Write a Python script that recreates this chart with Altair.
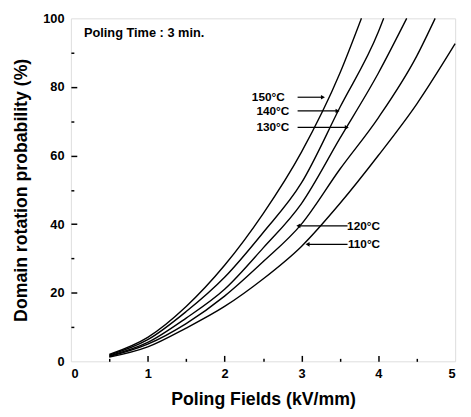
import altair as alt
import pandas as pd

# ---- data ----
x150 = [0.5, 1.0, 1.5, 2.0, 2.5, 3.0, 3.5, 3.78]
y150 = [2.0, 7.0, 16.0, 28.0, 43.0, 61.0, 84.0, 100.0]
x140 = [0.5, 1.0, 1.5, 2.0, 2.5, 3.0, 3.5, 4.0, 4.07]
y140 = [1.8, 6.3, 14.5, 24.5, 37.5, 52.0, 74.0, 96.0, 100.0]
x130 = [0.5, 1.0, 1.5, 2.0, 2.5, 3.0, 3.5, 4.0, 4.37]
y130 = [1.6, 5.5, 12.6, 21.0, 33.0, 46.0, 65.0, 84.0, 100.0]
x120 = [0.5, 1.0, 1.5, 2.0, 2.5, 3.0, 3.5, 4.0, 4.5, 4.74]
y120 = [1.4, 5.0, 11.0, 19.0, 29.0, 40.0, 56.0, 71.0, 89.0, 100.0]
x110 = [0.5, 1.0, 1.5, 2.0, 2.5, 3.0, 3.5, 4.0, 4.5, 5.0]
y110 = [1.2, 4.2, 9.7, 16.0, 24.0, 33.5, 46.0, 60.0, 75.0, 92.6]

series_names = ["150", "140", "130", "120", "110"]
series_x = [x150, x140, x130, x120, x110]
series_y = [y150, y140, y130, y120, y110]

x_ticks = [0, 1, 2, 3, 4, 5]
x_minor = [0.5, 1.5, 2.5, 3.5, 4.5]
y_ticks = [0, 20, 40, 60, 80, 100]
y_minor = [10, 30, 50, 70, 90]

label_text = ["150°C", "140°C", "130°C", "120°C", "110°C"]
label_x = [2.38, 2.44, 2.44, 3.62, 3.63]
label_y = [77.0, 73.0, 68.2, 39.5, 34.1]
arrow_from = [2.95, 2.95, 2.95, 3.60, 3.60]
arrow_to = [3.28, 3.47, 3.59, 2.96, 3.08]
arrow_head = ["triangle-right", "triangle-right", "triangle-right", "triangle-left", "triangle-left"]

note_text = ["Poling Time : 3 min."]
note_x = [0.17]
note_y = [95.6]

rows = []
for n, xs_, ys_ in zip(series_names, series_x, series_y):
    for i, (a, b) in enumerate(zip(xs_, ys_)):
        rows.append({"s": n, "x": a, "y": b, "o": i})
curves_df = pd.DataFrame(rows)

lab_df = pd.DataFrame({"t": label_text, "x": label_x, "y": label_y,
                       "x1": arrow_from, "x2": arrow_to, "shape": arrow_head})
note_df = pd.DataFrame({"t": note_text, "x": note_x, "y": note_y})

W, H = 391, 349
FONT = "Liberation Sans"

xs = alt.Scale(domain=[0, 5], nice=False)
ys = alt.Scale(domain=[0, 100], nice=False)

curves = alt.Chart(curves_df).mark_line(color="black", strokeWidth=1.4, interpolate="monotone").encode(
    x=alt.X("x:Q", scale=xs, axis=alt.Axis(
        title="Poling Fields (kV/mm)", values=x_ticks, format="d", ticks=False,
        labelPadding=6, titlePadding=11, grid=False, domain=False,
        labelFontSize=13, labelFontWeight="bold", titleFontSize=18, titleFontWeight="bold",
        labelColor="black", titleColor="black", labelFont=FONT, titleFont=FONT)),
    y=alt.Y("y:Q", scale=ys, axis=alt.Axis(
        title="Domain rotation probability (%)", values=y_ticks, ticks=False,
        labelPadding=7, titlePadding=12, grid=False, domain=False,
        labelFontSize=13, labelFontWeight="bold", titleFontSize=18, titleFontWeight="bold",
        labelColor="black", titleColor="black", labelFont=FONT, titleFont=FONT)),
    detail="s:N",
    order="o:Q",
)

def tick_layer(xaxis, yaxis):
    d = pd.DataFrame({"x": [x_ticks[0]], "y": [y_ticks[0]]})
    return alt.Chart(d).mark_point(opacity=0).encode(
        x=alt.X("x:Q", scale=xs, axis=xaxis),
        y=alt.Y("y:Q", scale=ys, axis=yaxis),
    )

major_ax_x = alt.Axis(orient="top", offset=-H, values=x_ticks[1:-1], labels=False, title=None,
                      tickSize=6, tickWidth=1.5, tickColor="black", domain=False, grid=False)
minor_ax_x = alt.Axis(orient="top", offset=-H, values=x_minor, labels=False, title=None,
                      tickSize=3, tickWidth=1.5, tickColor="black", domain=False, grid=False)
major_ax_y = alt.Axis(orient="right", offset=-W, values=y_ticks[1:-1], labels=False, title=None,
                      tickSize=6, tickWidth=1.5, tickColor="black", domain=False, grid=False)
minor_ax_y = alt.Axis(orient="right", offset=-W, values=y_minor, labels=False, title=None,
                      tickSize=3, tickWidth=1.5, tickColor="black", domain=False, grid=False)

t1 = tick_layer(major_ax_x, major_ax_y)
t2 = tick_layer(minor_ax_x, minor_ax_y)

arrows = alt.Chart(lab_df).mark_rule(color="black", strokeWidth=1.2).encode(
    x=alt.X("x1:Q", scale=xs, axis=None), x2="x2:Q", y=alt.Y("y:Q", scale=ys, axis=None))
heads = alt.Chart(lab_df).mark_point(color="black", filled=True, size=22, opacity=1).encode(
    x=alt.X("x2:Q", scale=xs, axis=None), y=alt.Y("y:Q", scale=ys, axis=None),
    shape=alt.Shape("shape:N", scale=None))
labels = alt.Chart(lab_df).mark_text(align="left", baseline="middle", font=FONT,
                                     fontSize=12, fontWeight="bold", color="black", dx=-2).encode(
    x=alt.X("x:Q", scale=xs, axis=None), y=alt.Y("y:Q", scale=ys, axis=None), text="t:N")
note = alt.Chart(note_df).mark_text(align="left", baseline="middle", font=FONT,
                                    fontSize=13, fontWeight="bold", color="black").encode(
    x=alt.X("x:Q", scale=xs, axis=None), y=alt.Y("y:Q", scale=ys, axis=None), text="t:N")

chart = alt.layer(curves, t1, t2, arrows, heads, labels, note).resolve_axis(
    x="independent", y="independent"
).properties(
    width=W, height=H,
    autosize=alt.AutoSizeParams(type="none"),
    padding={"left": 64, "top": 7, "right": 8, "bottom": 45},
).configure_view(stroke="black", strokeWidth=1.6).configure(background="white")

chart.save("out.html", embed_options={"renderer": "svg", "actions": False})
